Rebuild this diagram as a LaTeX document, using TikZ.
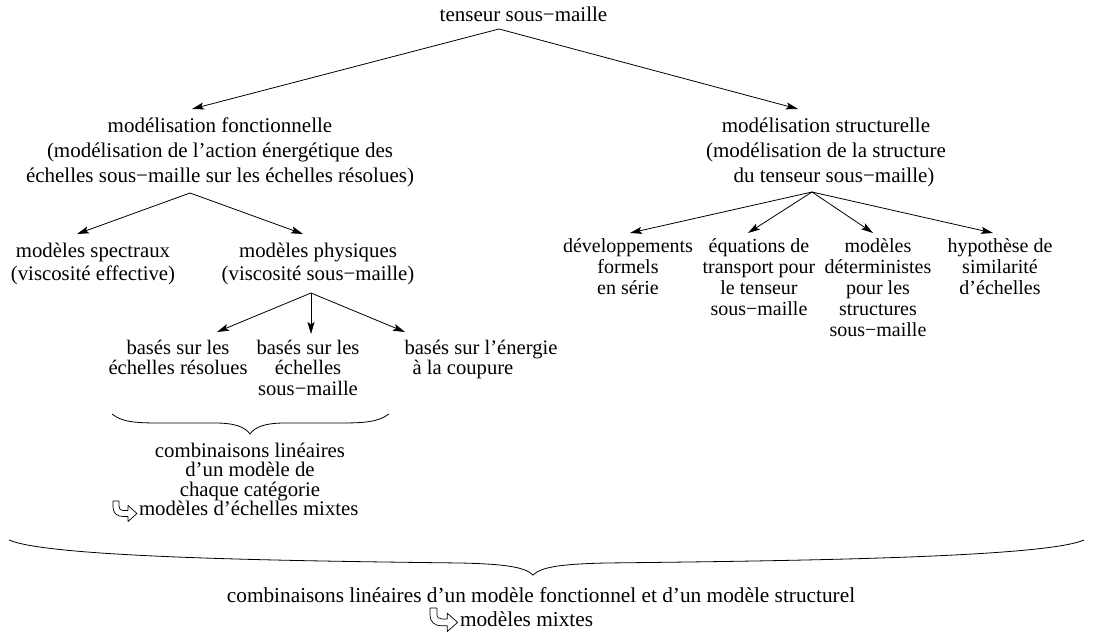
\documentclass[tikz,border=0pt]{standalone}
\usepackage{fontspec}
\setmainfont{Liberation Serif}
\usetikzlibrary{arrows.meta}
\newcommand\LL[1]{\vtop{\lineskiplimit=-100pt\halign{\hfil##\hfil\cr#1\crcr}}}
\begin{document}
\begin{tikzpicture}[x=1pt,y=-1pt,
  txt/.style={inner sep=0pt, outer sep=0pt, anchor=base},
  fA/.style={font=\fontsize{21}{25}\selectfont},
  fB/.style={font=\fontsize{20.8}{23.5}\selectfont},
  fC/.style={font=\fontsize{20.6}{20.5}\selectfont},
  fD/.style={font=\fontsize{20}{21}\selectfont},
  fE/.style={font=\fontsize{20.8}{19.5}\selectfont},
  fF/.style={font=\fontsize{21.3}{24}\selectfont},
  arr/.style={line width=0.8pt, -{Stealth[length=12pt,width=7pt,inset=2.5pt]}},
  bracestyle/.style={line width=0.8pt},
  hookarrow/.pic={\draw[line width=0.7pt, line join=round, fill=white]
    (0,0) -- (0,6) .. controls (0,12) and (4,15.5) .. (10,15.5) -- (15,15.5)
    -- (15,20.5) -- (24,12.5) -- (15,4.5) -- (15,9.5) -- (10,9.5)
    .. controls (7.5,9.5) and (6,8) .. (6,5) -- (6,0) -- cycle;}
]
\useasboundingbox (0,0) rectangle (1093,637);

% level 0
\node[txt,fA] (tens) at (523.5,21) {tenseur sous−maille};

% level 1
\node[txt,fA] (fonct) at (220,132) {\LL{modélisation fonctionnelle\cr
 (modélisation de l’action énergétique des\cr
 échelles sous−maille sur les échelles résolues)}};
\node[txt,fA] (struct) at (826,132) {\LL{modélisation structurelle\cr
 (modélisation de la structure\cr
 \kern16pt du tenseur sous−maille)}};

% level 2 (fonctionnelle)
\node[txt,fB] (spec) at (93,257) {\LL{modèles spectraux\cr (viscosité effective)}};
\node[txt,fB] (phys) at (318,257) {\LL{modèles physiques\cr (viscosité sous−maille)}};

% level 3 (physiques)
\node[txt,fC] (bres) at (178,354) {\LL{basés sur les\cr échelles résolues}};
\node[txt,fC] (bsm) at (308,354) {\LL{basés sur les\cr échelles\cr sous−maille}};
\node[txt,fC] (ben) at (481,354) {\LL{basés sur l’énergie\cr à la coupure\kern36pt}};

% level 2 (structurelle)
\node[txt,fD] (dev) at (628,252) {\LL{développements\cr formels\cr en série}};
\node[txt,fD] (equ) at (759,252) {\LL{équations de\cr transport pour\cr le tenseur\cr sous−maille}};
\node[txt,fD] (mdet) at (878,252) {\LL{modèles\cr déterministes\cr pour les\cr structures\cr sous−maille}};
\node[txt,fD] (hyp) at (1000,252) {\LL{hypothèse de\cr similarité\cr d’échelles}};

% arrows
\draw[arr] ([shift={(-24.5,8)}]tens.base) -- ([shift={(-28,-23)}]fonct.base);
\draw[arr] ([shift={(-24.5,8)}]tens.base) -- ([shift={(-28,-23)}]struct.base);
\draw[arr] ([shift={(-30,61)}]fonct.base) -- ([shift={(-16,-23)}]spec.base);
\draw[arr] ([shift={(-30,61)}]fonct.base) -- ([shift={(-15,-23)}]phys.base);
\draw[arr] ([shift={(-7,36)}]phys.base) -- ([shift={(39,-22)}]bres.base);
\draw[arr] ([shift={(-7,36)}]phys.base) -- ([shift={(3,-20)}]bsm.base);
\draw[arr] ([shift={(-7,36)}]phys.base) -- ([shift={(-76,-22)}]ben.base);
\draw[arr] ([shift={(-14,60)}]struct.base) -- ([shift={(2,-19)}]dev.base);
\draw[arr] ([shift={(-14,60)}]struct.base) -- ([shift={(-11,-19)}]equ.base);
\draw[arr] ([shift={(-14,60)}]struct.base) -- ([shift={(-5,-19)}]mdet.base);
\draw[arr] ([shift={(-14,60)}]struct.base) -- ([shift={(-7,-19)}]hyp.base);

% brace 1
\draw[bracestyle] (112,414) .. controls (122,422) and (135,423) .. (160,423) -- (215,423)
  .. controls (235,423) and (245,427) .. (250,434)
  .. controls (255,427) and (265,423) .. (285,423) -- (340,423)
  .. controls (365,423) and (378,422) .. (389,414);
\node[txt,fE] (combA) at (250,457) {\LL{combinaisons linéaires\cr d’un modèle de\cr chaque catégorie}};
\pic at (113,501) {hookarrow};
\node[txt,fE,anchor=base west] (mixA) at (139,515.5) {modèles d’échelles mixtes};

% brace 2
\draw[bracestyle] (9,540) .. controls (50,558) and (300,561) .. (460,563)
  .. controls (505,564) and (525,567) .. (533,575)
  .. controls (541,567) and (561,564) .. (606,563)
  .. controls (780,561) and (1043,558) .. (1084,540);
\node[txt,fF] (combB) at (541,602) {combinaisons linéaires d’un modèle fonctionnel et d’un modèle structurel};
\pic[scale=1.15] at (430,608) {hookarrow};
\node[txt,fF,anchor=base west] (mixB) at (460,626) {modèles mixtes};
\end{tikzpicture}
\end{document}
